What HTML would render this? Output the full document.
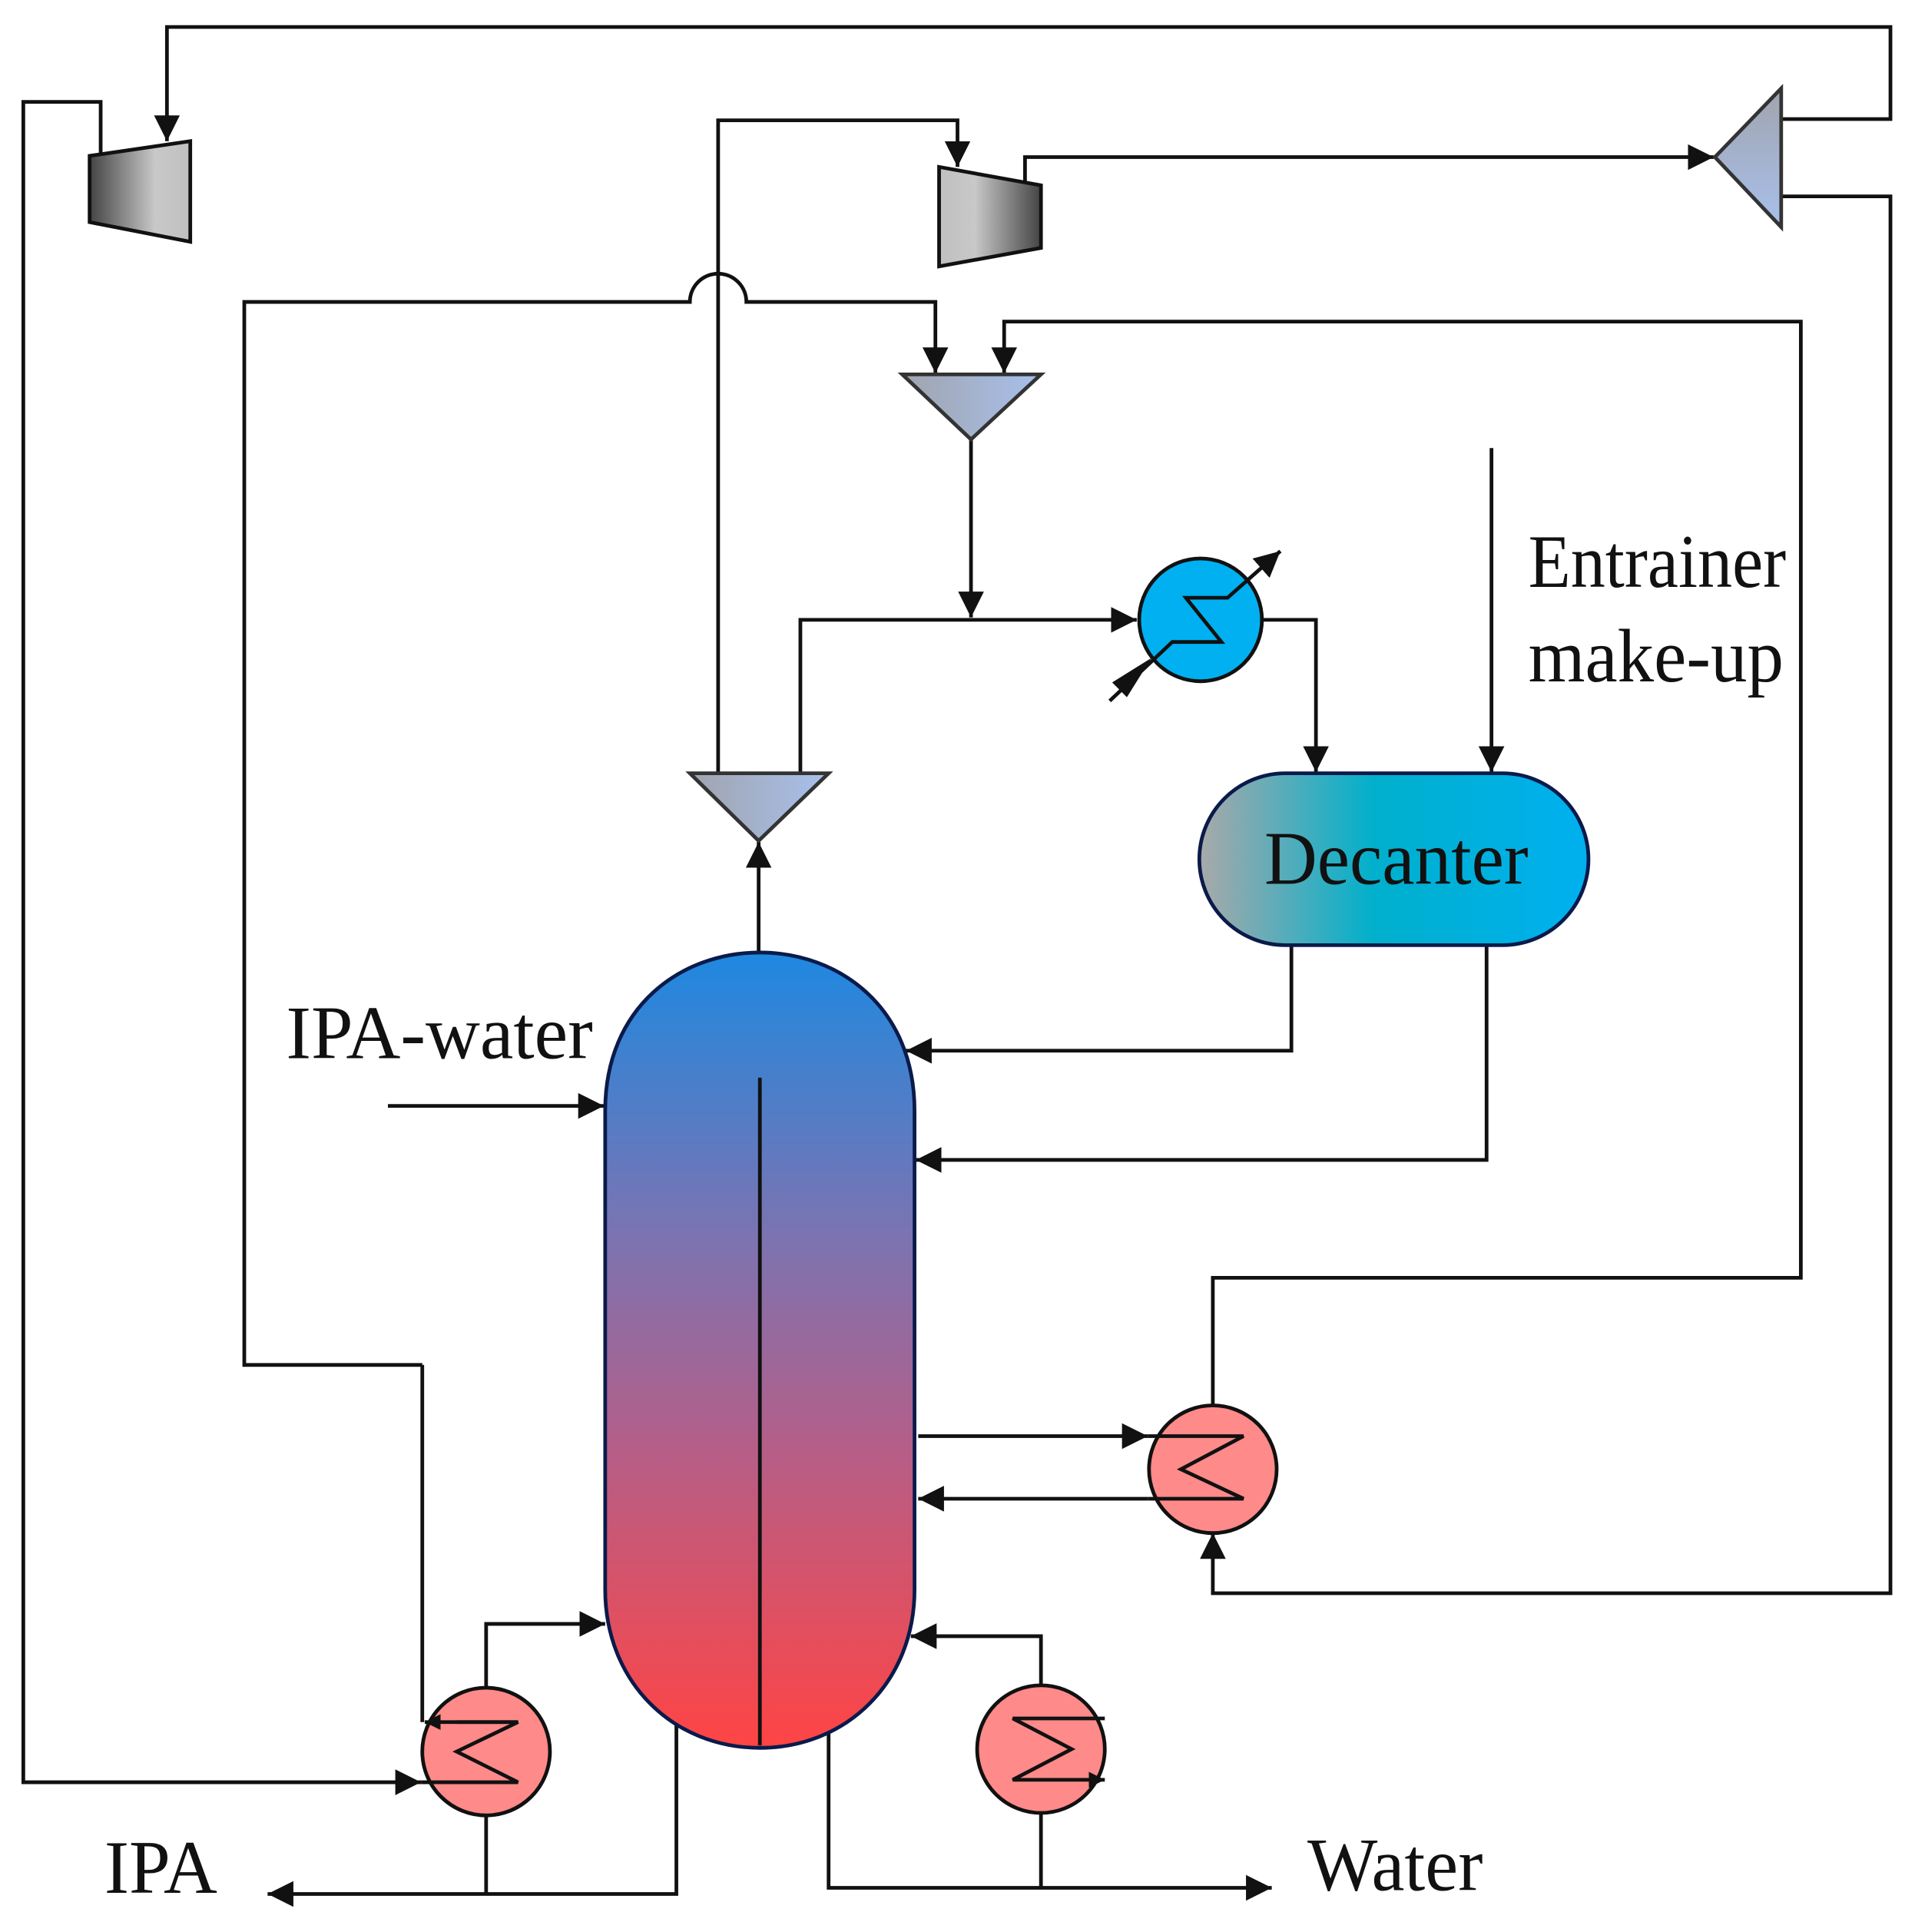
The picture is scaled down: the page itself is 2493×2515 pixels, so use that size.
<!DOCTYPE html>
<html><head><meta charset="utf-8"><style>html,body{margin:0;padding:0;background:#fff}svg{display:block}</style></head><body>
<svg width="2493" height="2515" viewBox="0 0 1560 1574" preserveAspectRatio="none" xmlns="http://www.w3.org/2000/svg">
<defs>
<marker id="a" viewBox="0 0 10 10" refX="10" refY="5" markerWidth="13" markerHeight="13" orient="auto" markerUnits="userSpaceOnUse"><path d="M0,0L10,5L0,10z" fill="#111"/></marker>
<marker id="A" viewBox="0 0 10 10" refX="10" refY="5" markerWidth="21" markerHeight="21" orient="auto" markerUnits="userSpaceOnUse"><path d="M0,0L10,5L0,10z" fill="#111"/></marker>
<linearGradient id="c1" x1="0" x2="1"><stop offset="0" stop-color="#444"/><stop offset="0.65" stop-color="#c8c8c8"/><stop offset="1" stop-color="#c0c0c0"/></linearGradient>
<linearGradient id="c2" x1="0" x2="1"><stop offset="0" stop-color="#c0c0c0"/><stop offset="0.35" stop-color="#c8c8c8"/><stop offset="1" stop-color="#444"/></linearGradient>
<linearGradient id="sp" x1="0" x2="1"><stop offset="0" stop-color="#a0a4ae"/><stop offset="1" stop-color="#a8c0ec"/></linearGradient>
<linearGradient id="sp2" x1="0" y1="1" x2="0" y2="0"><stop offset="0" stop-color="#a8c0ec"/><stop offset="1" stop-color="#a0a4ae"/></linearGradient>
<linearGradient id="dec" x1="0" x2="1"><stop offset="0" stop-color="#a9a9a9"/><stop offset="0.45" stop-color="#00b0cc"/><stop offset="1" stop-color="#00b0f0"/></linearGradient>
<linearGradient id="col" x1="0" y1="0" x2="0" y2="1"><stop offset="0" stop-color="#1e88e0"/><stop offset="0.35" stop-color="#7a74b2"/><stop offset="0.6" stop-color="#b0608c"/><stop offset="1" stop-color="#ff4444"/></linearGradient>
</defs>
<g fill="none" stroke="#111" stroke-width="3">
<polyline points="1451,97 1540,97 1540,22 136,22 136,115" marker-end="url(#A)"/>
<polyline points="82,127 82,83 19,83 19,1452 343,1452" marker-end="url(#A)"/>
<polyline points="585,630 585,98 780,98 780,136" marker-end="url(#A)"/>
<polyline points="835,151 835,128 1396,128" marker-end="url(#A)"/>
<polyline points="1451,160 1540,160 1540,1298 988,1298 988,1249" marker-end="url(#A)"/>
<path d="M344,1112 L199,1112 L199,246 L562,246 A23,23 0 0 1 608,246 L762,246 L762,304" marker-end="url(#A)"/>
<polyline points="988,1145 988,1041 1467,1041 1467,262 818,262 818,304" marker-end="url(#A)"/>
<line x1="344" y1="1112" x2="344" y2="1403"/>
<polyline points="791,358 791,503" marker-end="url(#A)"/>
<polyline points="652,630 652,505 926,505" marker-end="url(#A)"/>
<polyline points="618,776 618,686" marker-end="url(#A)"/>
<polyline points="1028,505 1072,505 1072,629" marker-end="url(#A)"/>
<polyline points="1215,365 1215,629" marker-end="url(#A)"/>
<polyline points="1052,770 1052,856 738,856" marker-end="url(#A)"/>
<polyline points="1211,770 1211,945 746,945" marker-end="url(#A)"/>
<polyline points="316,901 492,901" marker-end="url(#A)"/>
<polyline points="748,1170 935,1170" marker-end="url(#A)"/>
<polyline points="935,1221 748,1221" marker-end="url(#A)"/>
<polyline points="396,1375 396,1323 493,1323" marker-end="url(#A)"/>
<polyline points="848,1373 848,1333 742,1333" marker-end="url(#A)"/>
<polyline points="551,1405 551,1543 218,1543" marker-end="url(#A)"/>
<line x1="396" y1="1479" x2="396" y2="1543"/>
<polyline points="675,1410 675,1538 1036,1538" marker-end="url(#A)"/>
<line x1="848" y1="1477" x2="848" y2="1538"/>
</g>
<polygon points="73,127 155,115 155,197 73,181" fill="url(#c1)" stroke="#111" stroke-width="3"/>
<polygon points="765,136 848,151 848,202 765,217" fill="url(#c2)" stroke="#111" stroke-width="3"/>
<polygon points="1397,128 1451,72 1451,185" fill="url(#sp2)" stroke="#333" stroke-width="3"/>
<polygon points="735,305 848,305 791,358" fill="url(#sp)" stroke="#333" stroke-width="3"/>
<polygon points="562,630 675,630 618,685" fill="url(#sp)" stroke="#333" stroke-width="3"/>
<circle cx="978" cy="505" r="50" fill="#00b0f0" stroke="#111" stroke-width="3"/>
<polyline points="904,571 955,523 995,523 966,487 1000,487 1043,449" fill="none" stroke="#111" stroke-width="3" marker-end="url(#A)"/>
<polygon points="938,536 906,556 918,568" fill="#111"/>
<rect x="977" y="630" width="317" height="140" rx="70" fill="url(#dec)" stroke="#0a1a4a" stroke-width="3"/>
<text x="1030" y="720" textLength="215" lengthAdjust="spacingAndGlyphs" font-family="Liberation Serif, serif" font-size="62" fill="#111">Decanter</text>
<path d="M493,905 C493,820 555,776 619,776 C683,776 745,820 745,905 L745,1295 C745,1370 690,1424 619,1424 C548,1424 493,1370 493,1295 Z" fill="url(#col)" stroke="#0a1a4a" stroke-width="3"/>
<line x1="619" y1="878" x2="619" y2="1422" stroke="#111" stroke-width="3"/>
<circle cx="988" cy="1197" r="52" fill="#ff8a8a" stroke="#111" stroke-width="3"/>
<polyline points="935,1170 1013,1170 962,1197 1013,1221 935,1221" fill="none" stroke="#111" stroke-width="3"/>
<circle cx="396" cy="1427" r="52" fill="#ff8a8a" stroke="#111" stroke-width="3"/>
<polyline points="422,1403 372,1403 422,1403 372,1427 422,1452 343,1452" fill="none" stroke="#111" stroke-width="3"/>
<polyline points="422,1403 346,1403" fill="none" stroke="#111" stroke-width="3" marker-end="url(#a)"/>
<circle cx="848" cy="1425" r="52" fill="#ff8a8a" stroke="#111" stroke-width="3"/>
<polyline points="900,1400 825,1400 873,1425 825,1450 900,1450" fill="none" stroke="#111" stroke-width="3" marker-end="url(#a)"/>
<g font-family="Liberation Serif, serif" font-size="62" fill="#111">
<text x="233" y="862" textLength="250" lengthAdjust="spacingAndGlyphs">IPA-water</text>
<text x="1245" y="478" textLength="210" lengthAdjust="spacingAndGlyphs">Entrainer</text>
<text x="1245" y="555" textLength="208" lengthAdjust="spacingAndGlyphs">make-up</text>
<text x="85" y="1542" textLength="92" lengthAdjust="spacingAndGlyphs">IPA</text>
<text x="1065" y="1540" textLength="143" lengthAdjust="spacingAndGlyphs">Water</text>
</g>
</svg>
</body></html>
